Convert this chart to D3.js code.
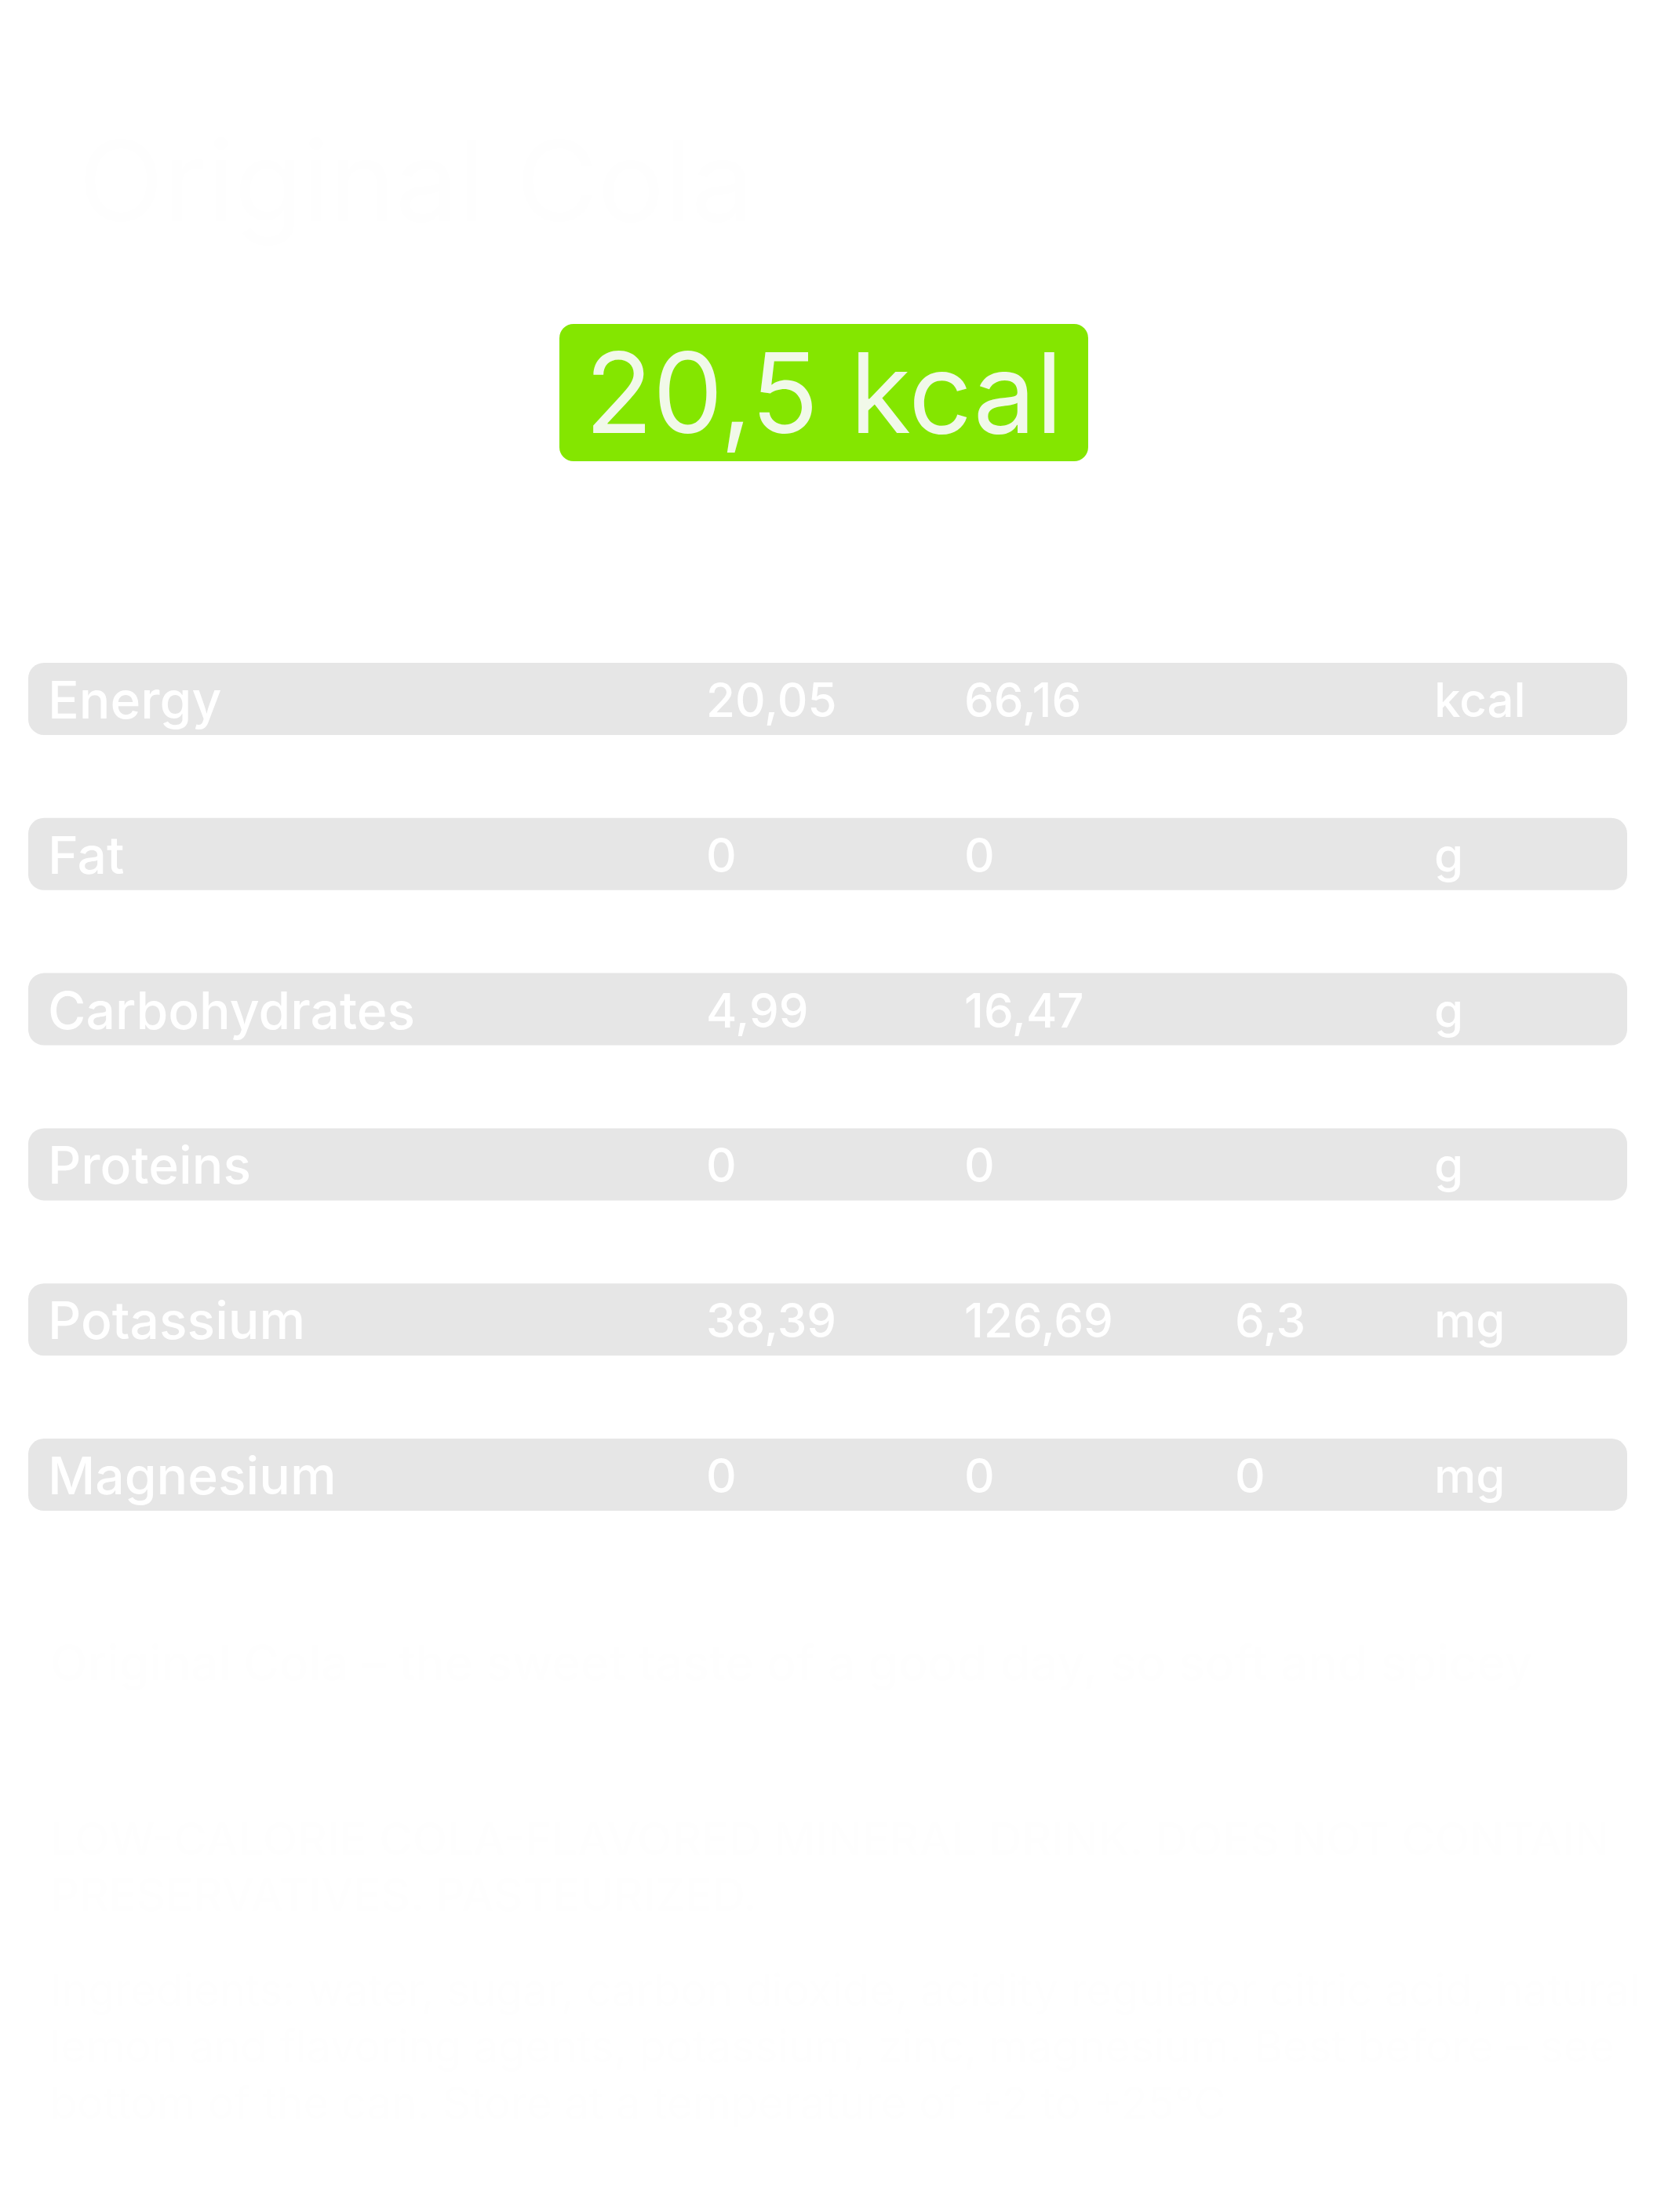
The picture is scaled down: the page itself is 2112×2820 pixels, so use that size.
<!DOCTYPE html>
<meta charset="utf-8">
<script src="https://d3js.org/d3.v7.min.js"></script>
<style>
  body { margin: 0; background: #fff; }
  text { font-family: Inter, "Noto Sans", sans-serif; }
</style>
<div id="label"></div>
<script>

  // nutrition values, per 100 ml / per can / % of daily intake
  var nutrients  = ["Energy", "Fat", "Carbohydrates", "Proteins", "Potassium", "Magnesium"];
  var per100     = [20.05, 0, 4.99, 0, 38.39, 0];
  var perCan     = [66.16, 0, 16.47, 0, 126.69, 0];
  var dailyShare = [null, null, null, null, 6.3, 0];
  var units      = ["kcal", "g", "g", "g", "mg", "mg"];

  var calories = 20.5;
  var productName = "Original Cola";
  var slogan = "Original Cola \u2013 the sweet taste of a good day, so soft and spicey";
  var notice = ["LOW-CALORIE COLA-FLAVORED MINERAL DRINK. DOES NOT CONTAIN",
                "PRESERVATIVES. PASTEURIZED."];
  var ingredients = ["Ingredients: water, sugar, carbon dioxide, acidity regulator citric acid, natural",
                     "lemon and flavoring agents, potassium, zinc, magnesium. Best before \u2013 see",
                     "bottom of the can. Store at a temperature of +2 to +25\u00b0C"];

  var W = 2112, H = 2820;
  var faint = "#fefefe";
  var fmt = d3.formatLocale({decimal: ",", thousands: " ", grouping: [3], currency: ["", ""]}).format(".2~f");

  var svg = d3.select("#label")
    .append("svg")
      .attr("width", W)
      .attr("height", H);

  // faint product name
  svg.append("text")
    .attr("x", 100)
    .attr("y", 282)
    .attr("font-size", 142)
    .attr("fill", faint)
    .text(productName);

  // calorie badge
  var badge = svg.append("g").attr("transform", "translate(1050,0)");
  badge.append("rect")
    .attr("x", -337).attr("y", 413)
    .attr("width", 674).attr("height", 175)
    .attr("rx", 18)
    .attr("fill", "#84e600");
  badge.append("text")
    .attr("x", 0)
    .attr("y", 552)
    .attr("text-anchor", "middle")
    .attr("font-size", 142)
    .attr("fill", "#f1f9e9")
    .text(fmt(calories) + " kcal");

  // table rows
  var rows = d3.scaleBand()
    .domain(nutrients)
    .range([845, 1926])
    .paddingInner(0.535)
    .paddingOuter(0);

  var col = d3.scaleOrdinal()
    .domain(["name", "per100", "perCan", "daily", "unit"])
    .range([61, 900, 1229, 1574, 1828]);

  var data = nutrients.map(function(d, i) {
    return {name: d, per100: per100[i], perCan: perCan[i], daily: dailyShare[i], unit: units[i]};
  });

  var row = svg.selectAll("g.row")
    .data(data)
    .enter()
    .append("g")
      .attr("class", "row")
      .attr("transform", function(d) { return "translate(0," + rows(d.name) + ")"; });

  row.append("rect")
    .attr("x", 36)
    .attr("width", 2038)
    .attr("height", rows.bandwidth())
    .attr("rx", 20)
    .attr("fill", "#e6e6e6");

  var base = rows.bandwidth() / 2 + 23;

  row.append("text")
    .attr("x", col("name"))
    .attr("y", base + 2)
    .attr("font-size", 66)
    .attr("font-weight", 500)
    .attr("fill", "#fff")
    .text(function(d) { return d.name; });

  ["per100", "perCan", "daily"].forEach(function(k) {
    row.filter(function(d) { return d[k] != null; })
      .append("text")
        .attr("x", col(k))
        .attr("y", base)
        .attr("font-size", 60)
        .attr("font-weight", 500)
        .attr("fill", "#fff")
        .text(function(d) { return fmt(d[k]); });
  });

  row.append("text")
    .attr("x", col("unit"))
    .attr("y", base)
    .attr("font-size", 60)
    .attr("font-weight", 500)
    .attr("fill", "#fff")
    .text(function(d) { return d.unit; });

  // faint label text below
  svg.append("text")
    .attr("x", 64)
    .attr("y", 2142)
    .attr("font-size", 62)
    .attr("font-weight", 500)
    .attr("fill", faint)
    .text(slogan);

  svg.selectAll("text.notice")
    .data(notice)
    .enter()
    .append("text")
      .attr("class", "notice")
      .attr("x", 64)
      .attr("y", function(d, i) { return 2365 + i * 71; })
      .attr("font-size", 58)
      .attr("font-weight", 500)
      .attr("fill", faint)
      .text(function(d) { return d; });

  svg.selectAll("text.ingr")
    .data(ingredients)
    .enter()
    .append("text")
      .attr("class", "ingr")
      .attr("x", 64)
      .attr("y", function(d, i) { return 2557 + i * 72; })
      .attr("font-size", 56)
      .attr("fill", faint)
      .text(function(d) { return d; });

</script>
